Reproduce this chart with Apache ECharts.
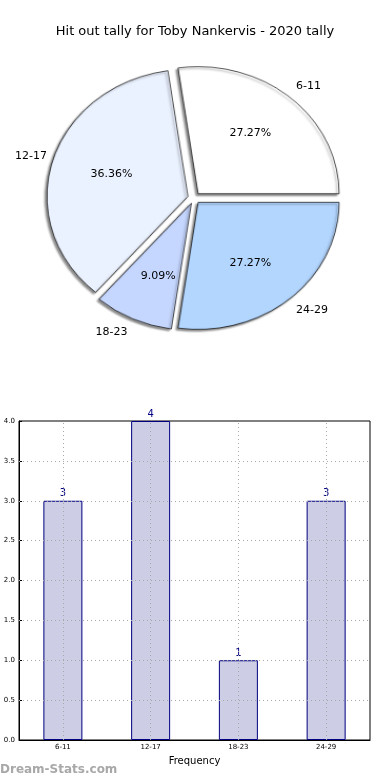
<!DOCTYPE html>
<html>
<head>
<meta charset="utf-8">
<script src="https://cdn.jsdelivr.net/npm/echarts@6/dist/echarts.min.js"></script>
<style>
html,body{margin:0;padding:0;background:#fff;}
#wrap{position:relative;width:390px;height:780px;}
#p{position:absolute;left:0;top:0;width:390px;height:400px;
   transform-origin:194px 198px;transform:scale(1.052,0.948);}
#c{position:absolute;left:0;top:0;width:390px;height:780px;}
</style>
</head>
<body>
<div id="wrap"><div id="p"></div><div id="c"></div></div>
<script>
var titleText = 'Hit out tally for Toby Nankervis - 2020 tally';
var categories = ['6-11', '12-17', '18-23', '24-29'];
var counts = [3, 4, 1, 3];
var pieColors = ['#ffffff', '#ebf2ff', '#c6d7ff', '#b3d6ff'];
var yTicks = [0.5, 1.0, 1.5, 2.0, 2.5, 3.0, 3.5];
var xAxisName = 'Frequency';
var watermark = 'Dream-Stats.com';

var R = 134;
var CX = 194, CY = 198;
var SEL = 6;
var FONT = 'DejaVu Sans';
var total = counts.reduce(function (a, b) { return a + b; }, 0);

var pieData = categories.map(function (c, i) {
  return { name: c, value: counts[i], selected: true, itemStyle: { color: pieColors[i] } };
});
var pieLabelData = categories.map(function (c, i) {
  return { name: c, value: counts[i], selected: true };
});

var markData = categories.map(function (c) { return { xAxis: c }; })
  .concat(yTicks.map(function (v) { return { yAxis: v }; }));

// slices, drawn in a slightly stretched layer so the pie is elliptical like the original
var pieChart = echarts.init(document.getElementById('p'), null, { renderer: 'canvas' });
pieChart.setOption({
  animation: false,
  series: [{
    type: 'pie', center: [CX, CY], radius: [0, R],
    startAngle: 0, clockwise: false, silent: true,
    selectedMode: 'multiple', selectedOffset: SEL,
    itemStyle: { borderColor: '#000', borderWidth: 0.7,
      shadowColor: 'rgba(0,0,0,0.45)', shadowBlur: 2, shadowOffsetX: -2, shadowOffsetY: 2 },
    label: { show: false }, labelLine: { show: false },
    emphasis: { disabled: true },
    data: pieData
  }]
});

var chart = echarts.init(document.getElementById('c'), null, { renderer: 'canvas' });
chart.setOption({
  animation: false,
  title: {
    text: titleText, left: 'center', top: 20,
    textStyle: { fontFamily: FONT, fontSize: 13, fontWeight: 'normal', color: '#000' }
  },
  graphic: [{
    type: 'text', left: 0, top: 764,
    style: { text: watermark, fontFamily: FONT, fontSize: 12, fontWeight: 'bold', fill: '#a8a8a8' }
  }],
  grid: {
    left: 19, right: 20, top: 421, bottom: 40,
    show: true, borderColor: '#000', borderWidth: 1, backgroundColor: 'transparent'
  },
  xAxis: {
    type: 'category', data: categories,
    axisLine: { lineStyle: { color: '#000' } },
    axisTick: { inside: true, alignWithLabel: true, length: 3, lineStyle: { color: '#000' } },
    axisLabel: { fontFamily: FONT, fontSize: 7, color: '#000', margin: 4 },
    splitLine: { show: false },
    name: xAxisName, nameLocation: 'middle', nameGap: 16,
    nameTextStyle: { fontFamily: FONT, fontSize: 10, color: '#000' }
  },
  yAxis: {
    type: 'value', min: 0, max: 4, interval: 0.5,
    axisLine: { show: true, lineStyle: { color: '#000' } },
    axisTick: { show: true, inside: true, length: 3, lineStyle: { color: '#000' } },
    axisLabel: { fontFamily: FONT, fontSize: 7, color: '#000', margin: 4,
      formatter: function (v) { return v.toFixed(1); } },
    splitLine: { show: false }
  },
  series: [
    {
      type: 'pie', center: [CX, CY], radius: [0, R],
      startAngle: 0, clockwise: false, silent: true,
      selectedMode: 'multiple', selectedOffset: SEL,
      avoidLabelOverlap: false,
      itemStyle: { color: 'rgba(0,0,0,0)', borderWidth: 0 },
      label: { show: true, position: 'outside', formatter: '{b}',
        fontFamily: FONT, fontSize: 11, color: '#000' },
      labelLine: { show: false, length: 8, length2: 0 },
      emphasis: { disabled: true },
      data: pieLabelData
    },
    {
      type: 'pie', center: [CX, CY], radius: [0, R * 1.15],
      startAngle: 0, clockwise: false, silent: true,
      selectedMode: 'multiple', selectedOffset: SEL,
      avoidLabelOverlap: false, z: 3,
      itemStyle: { color: 'rgba(0,0,0,0)', borderWidth: 0 },
      label: { show: true, position: 'inner',
        formatter: function (p) { return (p.value / total * 100).toFixed(2) + '%'; },
        fontFamily: FONT, fontSize: 11, color: '#000' },
      labelLine: { show: false },
      emphasis: { disabled: true },
      data: pieLabelData
    },
    {
      type: 'bar', data: counts, barWidth: 39,
      itemStyle: { color: '#cdcde6', borderColor: '#000080', borderWidth: 1 },
      label: { show: true, position: 'top', distance: 2, color: '#000080',
        fontFamily: FONT, fontSize: 10 },
      emphasis: { disabled: true },
      markLine: {
        silent: true, symbol: 'none', label: { show: false },
        lineStyle: { type: [1, 3], color: '#a8a8a8', width: 1 },
        data: markData
      }
    }
  ]
});
</script>
</body>
</html>
